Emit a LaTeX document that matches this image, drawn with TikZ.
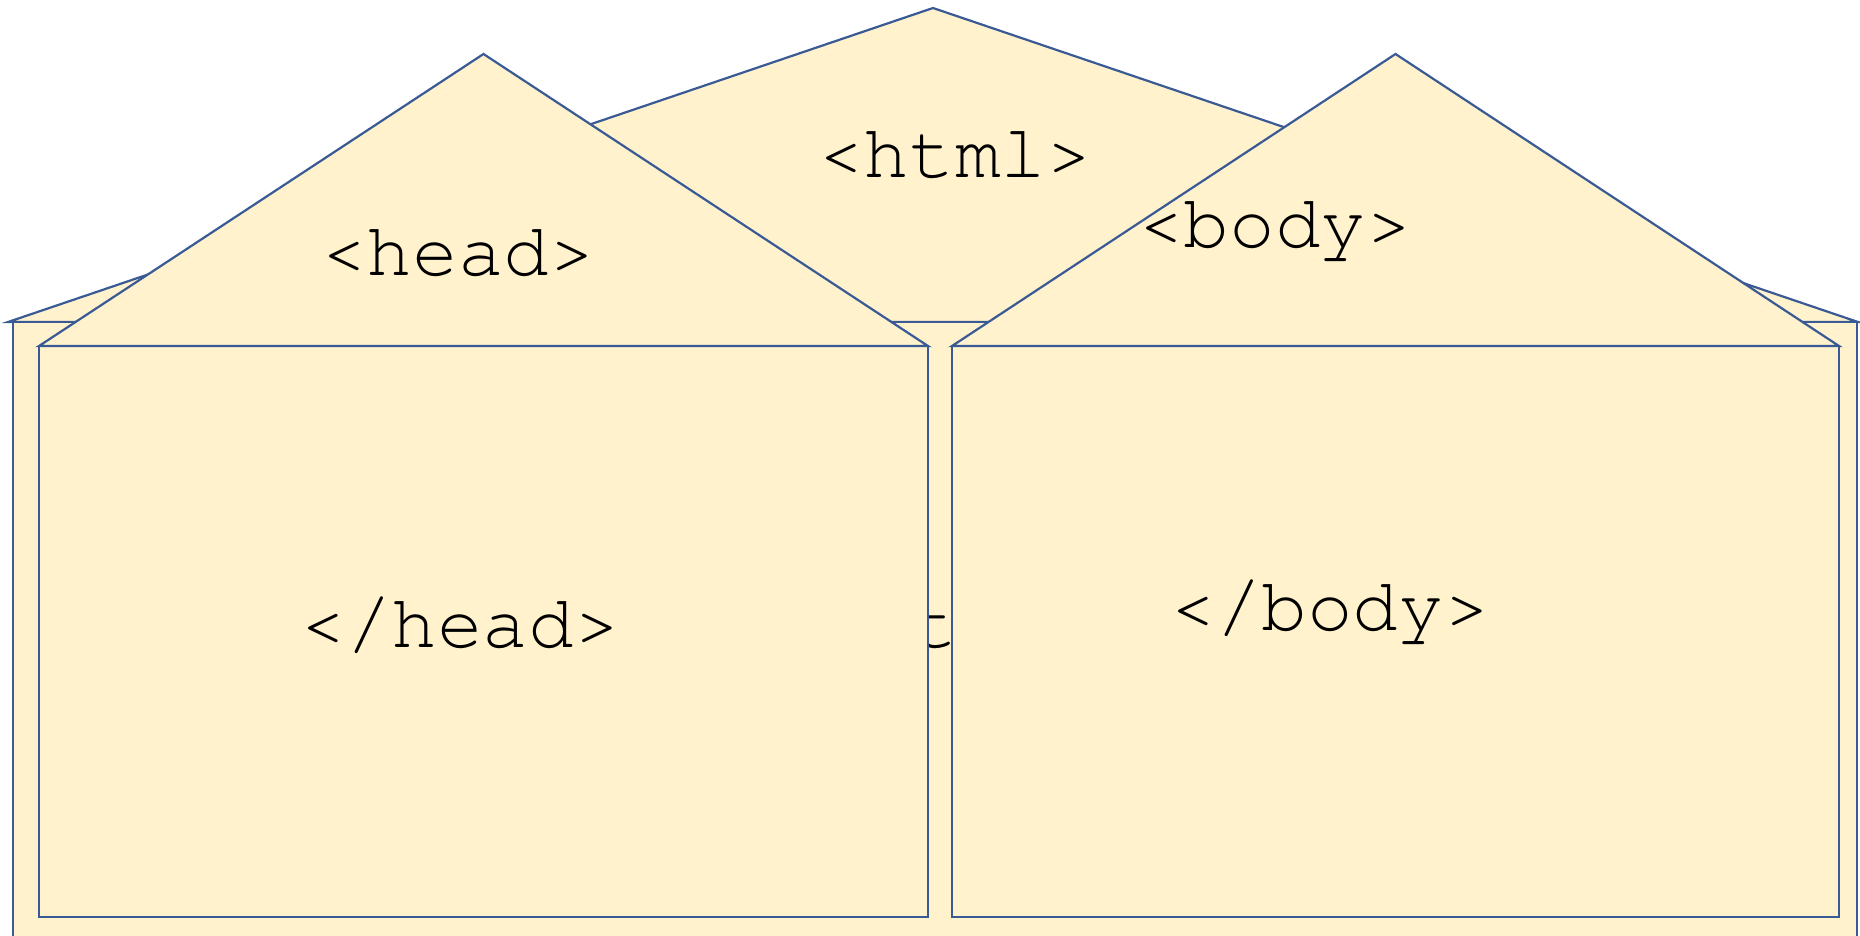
\documentclass[tikz,border=0pt]{standalone}
\usepackage{fontspec}
\setmonofont{TeX Gyre Cursor}
\definecolor{wallfill}{HTML}{FFF2CC}
\definecolor{edgeblue}{HTML}{3A5A96}
\begin{document}
\begin{tikzpicture}[x=1pt,y=-1pt,
  part/.style={draw=edgeblue, fill=wallfill, line width=2.2pt, line join=miter},
  tag/.style={font=\ttfamily\fontsize{76}{76}\selectfont, text=black, inner sep=0pt}]
\useasboundingbox (0,0) rectangle (1860,935);
\clip (0,0) rectangle (1860,935);

% outer element: html
\path[part] (8,322) -- (933,8) -- (1858,322) -- cycle;
\path[part] (13,322) rectangle (1857,1000);
\node[tag] (htmlclose) at (935,625) {</html>};
\node[tag] (htmlopen) at (955,155) {<html>};

% head element
\path[part] (39,346) rectangle (928,917);
\path[part] (39,346) -- (483.5,54) -- (928,346) -- cycle;
\node[tag] (headopen) at (458,253) {<head>};
\node[tag] (headclose) at (460,625) {</head>};

% body element
\path[part] (952,346) rectangle (1839,917);
\path[part] (952,346) -- (1395.5,54) -- (1839,346) -- cycle;
\node[tag] (bodyopen) at (1275,232) {<body>};
\node[tag] (bodyclose) at (1330,612) {</body>};
\end{tikzpicture}
\end{document}
